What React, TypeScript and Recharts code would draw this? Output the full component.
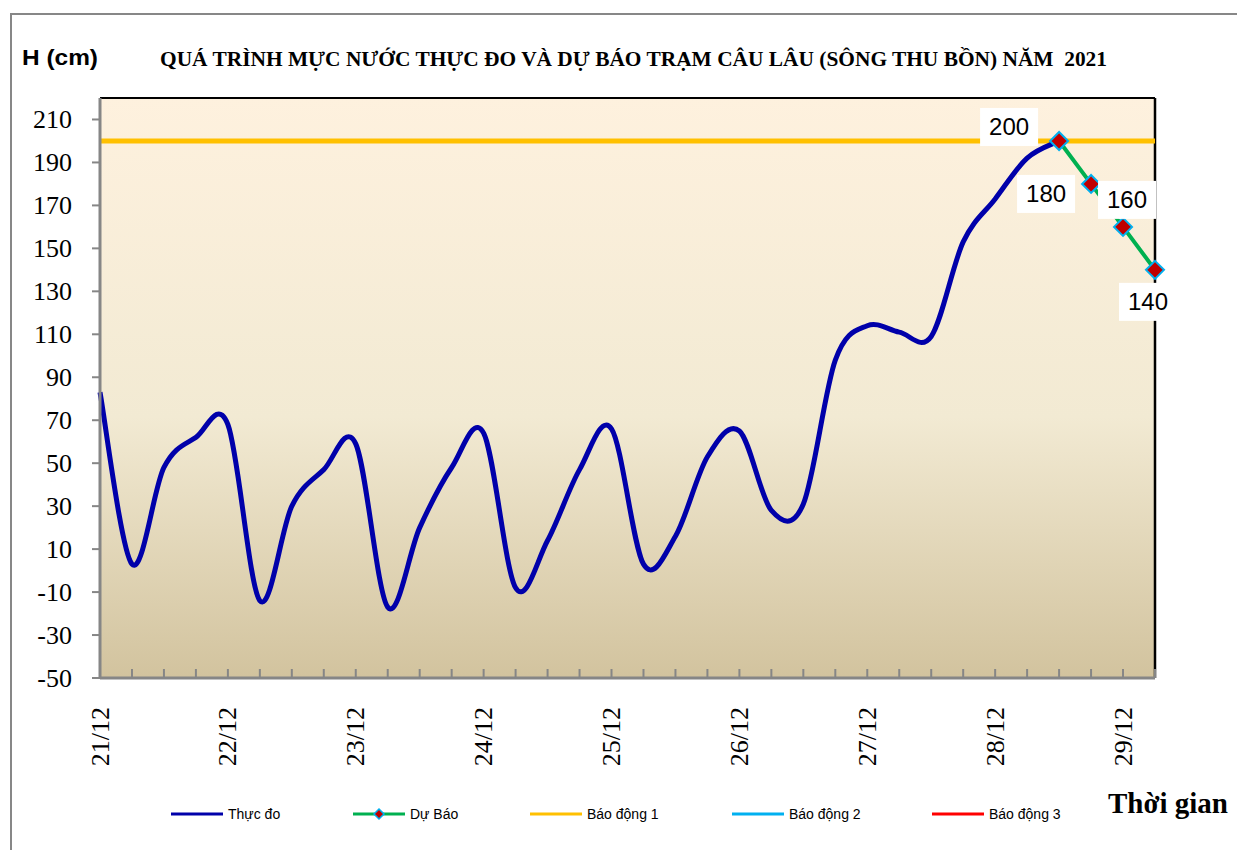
import React from 'react';
import { LineChart, Line, XAxis, YAxis, ReferenceArea, ReferenceLine } from 'recharts';

// ---- Data ----
const categories = [
  '21/12 00', '21/12 06', '21/12 12', '21/12 18',
  '22/12 00', '22/12 06', '22/12 12', '22/12 18',
  '23/12 00', '23/12 06', '23/12 12', '23/12 18',
  '24/12 00', '24/12 06', '24/12 12', '24/12 18',
  '25/12 00', '25/12 06', '25/12 12', '25/12 18',
  '26/12 00', '26/12 06', '26/12 12', '26/12 18',
  '27/12 00', '27/12 06', '27/12 12', '27/12 18',
  '28/12 00', '28/12 06', '28/12 12', '28/12 18',
  '29/12 00', '29/12 06',
];
const observed = [
  83, 3, 48, 62, 68, -14, 30, 47, 59, -17, 20, 48, 64, -8, 14, 47, 66, 3, 16, 53,
  65, 28, 31, 98, 114, 111, 109, 153, 173, 192, 200,
];
const forecastStartIndex = 30;
const forecast = [200, 180, 160, 140];
const alarm1Level = 200;
const yTicks = [-50, -30, -10, 10, 30, 50, 70, 90, 110, 130, 150, 170, 190, 210];
const yDomain = [-50, 220];
const legendItems = [
  { name: 'Thực đo', color: '#0000AA', marker: false },
  { name: 'Dự Báo', color: '#00B050', marker: true },
  { name: 'Báo động 1', color: '#FFC000', marker: false },
  { name: 'Báo động 2', color: '#00B0F0', marker: false },
  { name: 'Báo động 3', color: '#FF0000', marker: false },
];
const titleText = 'QUÁ TRÌNH MỰC NƯỚC THỰC ĐO VÀ DỰ BÁO TRẠM CÂU LÂU (SÔNG THU BỒN) NĂM  2021';
const yAxisTitle = 'H (cm)';
const xAxisTitle = 'Thời gian';

const data = categories.map((t, i) => ({
  t,
  observed: i < observed.length ? observed[i] : null,
  forecast:
    i >= forecastStartIndex && i - forecastStartIndex < forecast.length
      ? forecast[i - forecastStartIndex]
      : null,
  alarm1: alarm1Level,
}));

// ---- Styling helpers ----
const SERIF = "'Liberation Serif', 'Times New Roman', serif";
const SANS = "'Liberation Sans', Arial, sans-serif";
const legendX = [171, 353, 530, 732, 932];
const labelOffsets = [
  [-50, -14],
  [-45, 10],
  [4, -27],
  [-7, 32],
];

// Excel-like smoothed line (Catmull-Rom as cubic Bezier)
const excelSmooth: any = (context: any) => {
  let pts: number[][] = [];
  return {
    areaStart() {},
    areaEnd() {},
    lineStart() {
      pts = [];
    },
    lineEnd() {
      const n = pts.length;
      if (!n) return;
      context.moveTo(pts[0][0], pts[0][1]);
      if (n === 1) {
        context.lineTo(pts[0][0], pts[0][1]);
        return;
      }
      for (let i = 0; i < n - 1; i++) {
        const p0 = pts[Math.max(0, i - 1)];
        const p1 = pts[i];
        const p2 = pts[i + 1];
        const p3 = pts[Math.min(n - 1, i + 2)];
        context.bezierCurveTo(
          p1[0] + (p2[0] - p0[0]) / 6,
          p1[1] + (p2[1] - p0[1]) / 6,
          p2[0] - (p3[0] - p1[0]) / 6,
          p2[1] - (p3[1] - p1[1]) / 6,
          p2[0],
          p2[1]
        );
      }
    },
    point(x: number, y: number) {
      pts.push([+x, +y]);
    },
  };
};

function XTick(props: any) {
  const { x, y, payload } = props;
  const v: string = payload && payload.value;
  const isDay = typeof v === 'string' && v.endsWith(' 00');
  const label = isDay ? v.split(' ')[0] : '';
  const ly = y + 29;
  return (
    <g>
      <line x1={x} x2={x} y1={y - 9} y2={y} stroke="#868686" strokeWidth={2} />
      {label ? (
        <text
          x={x}
          y={ly}
          transform={`rotate(-90, ${x}, ${ly})`}
          textAnchor="end"
          dominantBaseline="central"
          style={{ fontFamily: SERIF, fontSize: 26 }}
          fill="#000"
        >
          {label}
        </text>
      ) : null}
    </g>
  );
}

function YTick(props: any) {
  const { x, y, payload } = props;
  return (
    <text
      x={x}
      y={y}
      textAnchor="end"
      dominantBaseline="central"
      style={{ fontFamily: SERIF, fontSize: 26 }}
      fill="#000"
    >
      {payload.value}
    </text>
  );
}

function DiamondDot(props: any) {
  const { cx, cy, value, index } = props;
  if (value == null || cx == null || cy == null) return <g key={`d${index}`} />;
  const r = 9;
  return (
    <path
      key={`d${index}`}
      d={`M${cx},${cy - r}L${cx + r},${cy}L${cx},${cy + r}L${cx - r},${cy}Z`}
      fill="#C00000"
      stroke="#00B0F0"
      strokeWidth={2}
    />
  );
}

function ForecastLabel(props: any) {
  const { x, y, value, index } = props;
  if (value == null || x == null || y == null) return null;
  const k = index - forecastStartIndex;
  const off = labelOffsets[k] || [0, -24];
  const cx = x + off[0];
  const cy = y + off[1];
  return (
    <g>
      <rect x={cx - 29} y={cy - 19} width={58} height={38} fill="#FFFFFF" />
      <text
        x={cx}
        y={cy}
        textAnchor="middle"
        dominantBaseline="central"
        style={{ fontFamily: SANS, fontSize: 24 }}
        fill="#000"
      >
        {value}
      </text>
    </g>
  );
}

export default function App() {
  return (
    <div
      style={{
        position: 'absolute',
        left: 0,
        top: 0,
        width: 1237,
        height: 850,
        background: '#fff',
        overflow: 'hidden',
      }}
    >
      <div
        style={{
          position: 'absolute',
          left: 10,
          top: 13,
          width: 1260,
          height: 900,
          borderLeft: '2px solid #878787',
          borderTop: '2px solid #878787',
        }}
      />
      <div style={{ position: 'absolute', left: 0, top: 0 }}>
        <LineChart
          width={1237}
          height={850}
          data={data}
          margin={{ top: 98, right: 82, left: 40, bottom: 82 }}
        >
          <defs>
            <linearGradient id="plotBg" x1="0" y1="0" x2="0" y2="1">
              <stop offset="0%" stopColor="#FEF1DE" />
              <stop offset="55%" stopColor="#F2EAD3" />
              <stop offset="100%" stopColor="#D2C39E" />
            </linearGradient>
          </defs>
          <ReferenceArea
            x1={categories[0]}
            x2={categories[categories.length - 1]}
            y1={yDomain[0]}
            y2={yDomain[1]}
            fill="url(#plotBg)"
            fillOpacity={1}
            stroke="none"
          />
          <XAxis
            dataKey="t"
            type="category"
            interval={0}
            tickLine={false}
            tickSize={0}
            tickMargin={0}
            height={90}
            axisLine={{ stroke: '#868686', strokeWidth: 3 }}
            tick={<XTick />}
          />
          <YAxis
            type="number"
            domain={yDomain}
            ticks={yTicks}
            interval={0}
            width={60}
            tickSize={8}
            tickMargin={20}
            allowDataOverflow
            axisLine={{ stroke: '#868686', strokeWidth: 3 }}
            tickLine={{ stroke: '#868686', strokeWidth: 2 }}
            tick={<YTick />}
          />
          <ReferenceLine y={yDomain[1]} stroke="#000" strokeWidth={2} />
          <ReferenceLine x={categories[categories.length - 1]} stroke="#000" strokeWidth={2.5} />
          <Line
            dataKey="alarm1"
            type="linear"
            stroke="#FFC000"
            strokeWidth={5}
            dot={false}
            activeDot={false}
            isAnimationActive={false}
          />
          <Line
            dataKey="observed"
            type={excelSmooth}
            stroke="#0000AA"
            strokeWidth={5}
            dot={false}
            activeDot={false}
            isAnimationActive={false}
          />
          <Line
            dataKey="forecast"
            type="linear"
            stroke="#00B050"
            strokeWidth={4}
            dot={<DiamondDot />}
            activeDot={false}
            label={<ForecastLabel />}
            isAnimationActive={false}
          />
        </LineChart>
      </div>

      <svg
        width={1237}
        height={850}
        style={{ position: 'absolute', left: 0, top: 0, pointerEvents: 'none' }}
      >
        <text
          x={22}
          y={65}
          style={{ fontFamily: SANS, fontWeight: 'bold', fontSize: 22 }}
          textLength={76}
          lengthAdjust="spacingAndGlyphs"
          fill="#000"
        >
          {yAxisTitle}
        </text>
        <text
          x={160}
          y={66}
          style={{ fontFamily: SERIF, fontWeight: 'bold', fontSize: 20, whiteSpace: 'pre' }}
          textLength={947}
          lengthAdjust="spacingAndGlyphs"
          fill="#000"
        >
          {titleText}
        </text>
        <text
          x={1108}
          y={813}
          style={{ fontFamily: SERIF, fontWeight: 'bold', fontSize: 29 }}
          textLength={120}
          lengthAdjust="spacingAndGlyphs"
          fill="#000"
        >
          {xAxisTitle}
        </text>
        {legendItems.map((it, i) => {
          const x0 = legendX[i];
          const y0 = 814;
          return (
            <g key={it.name}>
              <line x1={x0} x2={x0 + 52} y1={y0} y2={y0} stroke={it.color} strokeWidth={3} />
              {it.marker ? (
                <path
                  d={`M${x0 + 26},${y0 - 5}L${x0 + 31},${y0}L${x0 + 26},${y0 + 5}L${x0 + 21},${y0}Z`}
                  fill="#C00000"
                  stroke="#00B0F0"
                  strokeWidth={1.5}
                />
              ) : null}
              <text
                x={x0 + 57}
                y={y0 + 5}
                style={{ fontFamily: SANS, fontSize: 14 }}
                fill="#000"
              >
                {it.name}
              </text>
            </g>
          );
        })}
      </svg>
    </div>
  );
}
